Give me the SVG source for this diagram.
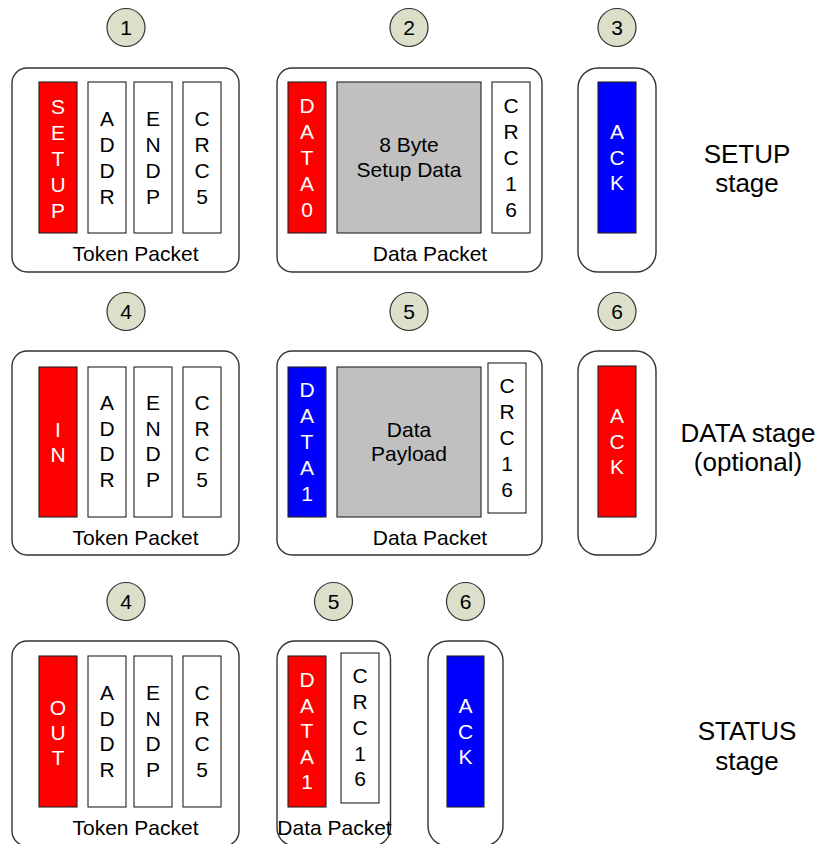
<svg xmlns="http://www.w3.org/2000/svg" width="822" height="844" viewBox="0 0 822 844">
<style>
text{font-family:"Liberation Sans",Arial,sans-serif;font-size:21px;text-anchor:middle;fill:#000}
.box{fill:#fff;stroke:#333;stroke-width:1.4}
.w{fill:#fff;stroke:#222;stroke-width:1.1}
.r{fill:#ff0000;stroke:#222;stroke-width:1.1}
.b{fill:#0000ff;stroke:#222;stroke-width:1.1}
.g{fill:#c0c0c0;stroke:#222;stroke-width:1.1}
.num{fill:#dcdfca;stroke:#333;stroke-width:1.2}
.wt{fill:#fff}
.stage{font-size:26px}
</style>
<rect width="822" height="844" fill="#fff"/>

<!-- Row 1 -->
<g id="n1"><circle class="num" cx="126" cy="27.5" r="19"/><text x="126" y="35">1</text></g>
<g id="n2"><circle class="num" cx="409" cy="27.5" r="19"/><text x="409" y="35">2</text></g>
<g id="n3"><circle class="num" cx="617" cy="27.5" r="19"/><text x="617" y="35">3</text></g>

<g id="token1">
<rect class="box" x="12" y="68" width="227" height="204" rx="15"/>
<rect class="r" x="39" y="82" width="38" height="151"/>
<text class="wt" x="58"><tspan x="58" y="114">S</tspan><tspan x="58" y="140">E</tspan><tspan x="58" y="166">T</tspan><tspan x="58" y="192">U</tspan><tspan x="58" y="218">P</tspan></text>
<rect class="w" x="88" y="82" width="38" height="151"/>
<text><tspan x="107" y="126">A</tspan><tspan x="107" y="152">D</tspan><tspan x="107" y="178">D</tspan><tspan x="107" y="204">R</tspan></text>
<rect class="w" x="134" y="82" width="38" height="151"/>
<text><tspan x="153" y="126">E</tspan><tspan x="153" y="152">N</tspan><tspan x="153" y="178">D</tspan><tspan x="153" y="204">P</tspan></text>
<rect class="w" x="183" y="82" width="38" height="151"/>
<text><tspan x="202" y="126">C</tspan><tspan x="202" y="152">R</tspan><tspan x="202" y="178">C</tspan><tspan x="202" y="204">5</tspan></text>
<text x="135.5" y="261">Token Packet</text>
</g>

<g id="data1">
<rect class="box" x="277" y="68" width="265" height="204" rx="15"/>
<rect class="r" x="288" y="82" width="38" height="151"/>
<text class="wt"><tspan x="307" y="113">D</tspan><tspan x="307" y="139">A</tspan><tspan x="307" y="165">T</tspan><tspan x="307" y="191">A</tspan><tspan x="307" y="217">0</tspan></text>
<rect class="g" x="337" y="82" width="144" height="151"/>
<text><tspan x="409" y="152">8 Byte</tspan><tspan x="409" y="177">Setup Data</tspan></text>
<rect class="w" x="492" y="82" width="38" height="151"/>
<text><tspan x="511" y="113">C</tspan><tspan x="511" y="139">R</tspan><tspan x="511" y="165">C</tspan><tspan x="511" y="191">1</tspan><tspan x="511" y="217">6</tspan></text>
<text x="430" y="261">Data Packet</text>
</g>

<g id="ack1">
<rect class="box" x="578" y="68" width="78" height="204" rx="20"/>
<rect class="b" x="598" y="82" width="38" height="151"/>
<text class="wt"><tspan x="617" y="139">A</tspan><tspan x="617" y="164.5">C</tspan><tspan x="617" y="190">K</tspan></text>
</g>

<g id="setupStage"><text class="stage"><tspan x="747" y="163">SETUP</tspan><tspan x="747" y="192">stage</tspan></text></g>

<!-- Row 2 -->
<g id="n4a"><circle class="num" cx="126" cy="311.5" r="19"/><text x="126" y="319">4</text></g>
<g id="n5a"><circle class="num" cx="409" cy="311.5" r="19"/><text x="409" y="319">5</text></g>
<g id="n6a"><circle class="num" cx="617" cy="311.5" r="19"/><text x="617" y="319">6</text></g>

<g id="token2">
<rect class="box" x="12" y="351" width="227" height="204" rx="15"/>
<rect class="r" x="39" y="367" width="38" height="150"/>
<text class="wt"><tspan x="58" y="437">I</tspan><tspan x="58" y="462">N</tspan></text>
<rect class="w" x="88" y="367" width="38" height="150"/>
<text><tspan x="107" y="410">A</tspan><tspan x="107" y="436">D</tspan><tspan x="107" y="461">D</tspan><tspan x="107" y="487">R</tspan></text>
<rect class="w" x="134" y="367" width="38" height="150"/>
<text><tspan x="153" y="410">E</tspan><tspan x="153" y="436">N</tspan><tspan x="153" y="461">D</tspan><tspan x="153" y="487">P</tspan></text>
<rect class="w" x="183" y="367" width="38" height="150"/>
<text><tspan x="202" y="410">C</tspan><tspan x="202" y="436">R</tspan><tspan x="202" y="461">C</tspan><tspan x="202" y="487">5</tspan></text>
<text x="135.5" y="545">Token Packet</text>
</g>

<g id="data2">
<rect class="box" x="277" y="351" width="265" height="204" rx="15"/>
<rect class="b" x="288" y="367" width="38" height="150"/>
<text class="wt"><tspan x="307" y="397">D</tspan><tspan x="307" y="423">A</tspan><tspan x="307" y="449">T</tspan><tspan x="307" y="475">A</tspan><tspan x="307" y="501">1</tspan></text>
<rect class="g" x="337" y="367" width="144" height="150"/>
<text><tspan x="409" y="437">Data</tspan><tspan x="409" y="461">Payload</tspan></text>
<rect class="w" x="488" y="363" width="38" height="150"/>
<text><tspan x="507" y="393">C</tspan><tspan x="507" y="419">R</tspan><tspan x="507" y="445">C</tspan><tspan x="507" y="471">1</tspan><tspan x="507" y="497">6</tspan></text>
<text x="430" y="545">Data Packet</text>
</g>

<g id="ack2">
<rect class="box" x="578" y="351" width="78" height="204" rx="20"/>
<rect class="r" x="598" y="366" width="38" height="151"/>
<text class="wt"><tspan x="617" y="423">A</tspan><tspan x="617" y="448.5">C</tspan><tspan x="617" y="474">K</tspan></text>
</g>

<g id="dataStage"><text class="stage"><tspan x="748" y="442">DATA stage</tspan><tspan x="748" y="471">(optional)</tspan></text></g>

<!-- Row 3 -->
<g id="n4b"><circle class="num" cx="126" cy="601.5" r="19"/><text x="126" y="609">4</text></g>
<g id="n5b"><circle class="num" cx="333.5" cy="601.5" r="19"/><text x="333.5" y="609">5</text></g>
<g id="n6b"><circle class="num" cx="465.5" cy="601.5" r="19"/><text x="465.5" y="609">6</text></g>

<g id="token3">
<rect class="box" x="12" y="641" width="227" height="205" rx="15"/>
<rect class="r" x="39" y="656" width="38" height="151"/>
<text class="wt"><tspan x="58" y="715">O</tspan><tspan x="58" y="740">U</tspan><tspan x="58" y="765">T</tspan></text>
<rect class="w" x="88" y="656" width="38" height="151"/>
<text><tspan x="107" y="700">A</tspan><tspan x="107" y="725.5">D</tspan><tspan x="107" y="751">D</tspan><tspan x="107" y="776.5">R</tspan></text>
<rect class="w" x="134" y="656" width="38" height="151"/>
<text><tspan x="153" y="700">E</tspan><tspan x="153" y="725.5">N</tspan><tspan x="153" y="751">D</tspan><tspan x="153" y="776.5">P</tspan></text>
<rect class="w" x="183" y="656" width="38" height="151"/>
<text><tspan x="202" y="700">C</tspan><tspan x="202" y="725.5">R</tspan><tspan x="202" y="751">C</tspan><tspan x="202" y="776.5">5</tspan></text>
<text x="135.5" y="835">Token Packet</text>
</g>

<g id="data3">
<rect class="box" x="277" y="641" width="113.5" height="205" rx="18"/>
<rect class="r" x="288" y="656" width="38" height="151"/>
<text class="wt"><tspan x="307" y="687">D</tspan><tspan x="307" y="712.5">A</tspan><tspan x="307" y="738">T</tspan><tspan x="307" y="763.5">A</tspan><tspan x="307" y="789">1</tspan></text>
<rect class="w" x="341" y="653" width="38" height="150"/>
<text><tspan x="360" y="683">C</tspan><tspan x="360" y="709">R</tspan><tspan x="360" y="735">C</tspan><tspan x="360" y="760.5">1</tspan><tspan x="360" y="786">6</tspan></text>
<text x="334.5" y="835">Data Packet</text>
</g>

<g id="ack3">
<rect class="box" x="428" y="641" width="75" height="205" rx="20"/>
<rect class="b" x="447" y="656" width="37" height="151"/>
<text class="wt"><tspan x="465.5" y="713">A</tspan><tspan x="465.5" y="738.5">C</tspan><tspan x="465.5" y="764">K</tspan></text>
</g>

<g id="statusStage"><text class="stage"><tspan x="747" y="740">STATUS</tspan><tspan x="747" y="770">stage</tspan></text></g>
</svg>
